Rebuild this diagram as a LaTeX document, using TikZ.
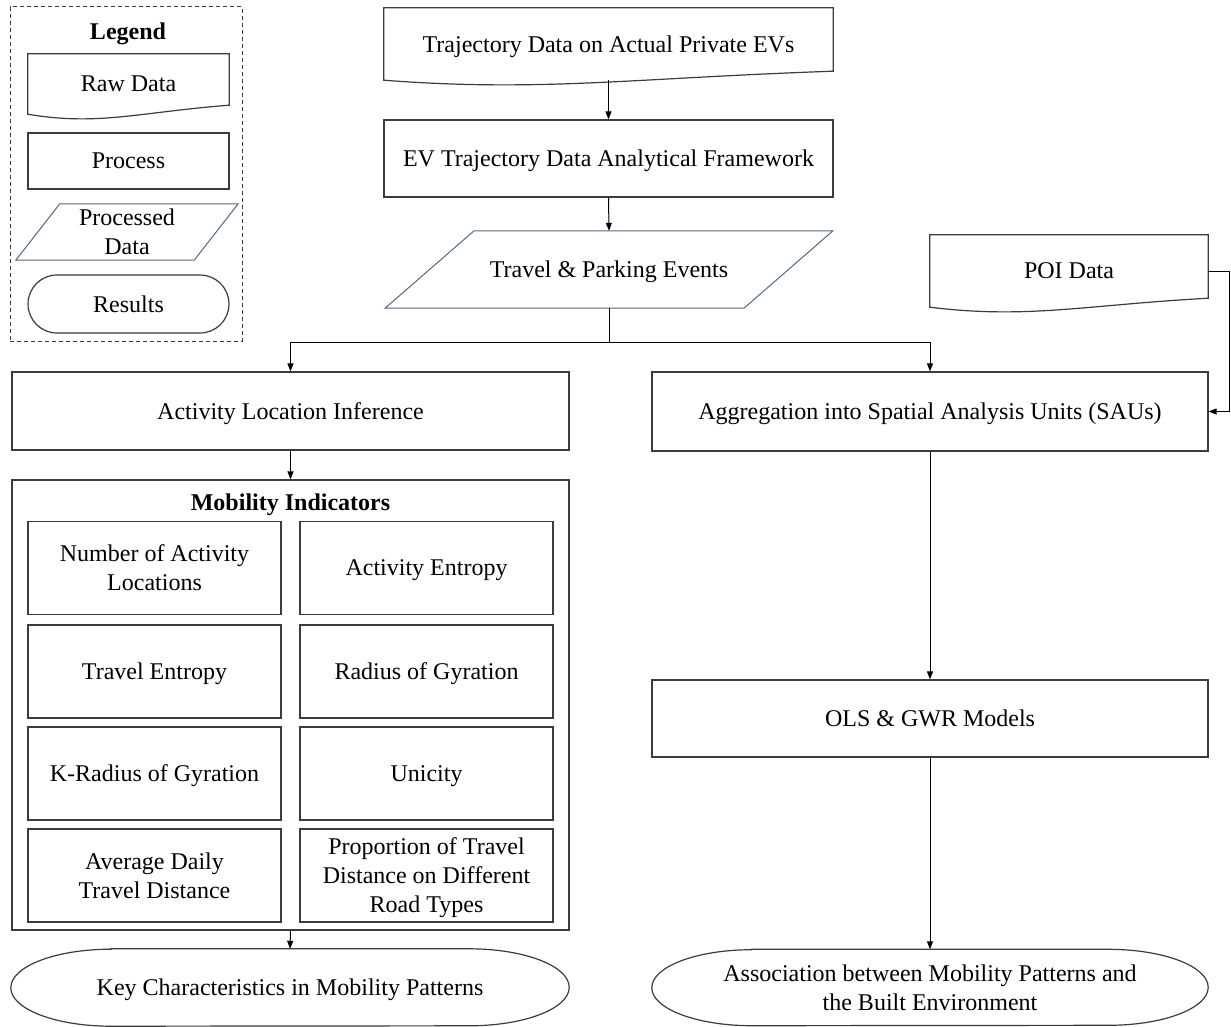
\documentclass[tikz,border=0pt]{standalone}
\usepackage{fontspec}
\setmainfont{Liberation Serif}
\usetikzlibrary{arrows.meta,calc}
\definecolor{linec}{RGB}{60,60,60}
\definecolor{slate}{RGB}{84,104,134}
\newcommand{\docoutline}[1]{%
  \draw[shapeline] (#1.north west) -- (#1.north east) -- ([yshift=9pt]#1.south east)
   .. controls ($(#1.south west)!0.55!(#1.south east)+(0,-2)$) and ($(#1.south west)!0.35!(#1.south east)+(0,12)$) .. (#1.south west) -- cycle;}
\newcommand{\paraoutline}[2]{%
  \draw[shapeline,draw=slate,line width=1pt] ($(#1.north west)+(#2,0)$) -- ($(#1.north east)+(#2,0)$) -- ($(#1.south east)+(-#2,0)$) -- ($(#1.south west)+(-#2,0)$) -- cycle;}
\newcommand{\termoutline}[3]{%
  \draw[shapeline] ($(#1.north west)+(#2,0)$) -- ($(#1.north east)+(-#2,0)$)
    arc[start angle=-90,end angle=90,x radius=#2,y radius=#3]
    -- ($(#1.south west)+(#2,0)$)
    arc[start angle=90,end angle=270,x radius=#2,y radius=#3] -- cycle;}
\begin{document}
\begin{tikzpicture}[x=1pt,y=-1pt,
  every node/.style={font=\fontsize{24}{29}\selectfont, align=center, inner sep=0pt, text depth=0pt},
  shapeline/.style={draw=linec, line width=1.2pt},
  box/.style={shapeline, rectangle},
  plain/.style={rectangle, draw=none},
  conn/.style={draw=black, line width=1pt, -{Triangle[length=8pt,width=6pt]}},
  connplain/.style={draw=black, line width=1pt},
  legbox/.style={draw=linec, line width=1pt, dash pattern=on 4pt off 3pt}]
\useasboundingbox (0,0) rectangle (1231,1027);

% Legend
\node[legbox, minimum width=232, minimum height=334] (legend) at (126,174) {};
\node (legtitle) at (128,31) {\textbf{Legend}};
\node[plain, minimum width=201, minimum height=60] (lraw) at (128.5,84) {Raw Data};
\docoutline{lraw}
\node[box, minimum width=201, minimum height=56] (lproc) at (128.5,161) {Process};
\node[plain, minimum width=178, minimum height=56] (lpd) at (127,232) {Processed\\Data};
\paraoutline{lpd}{22}
\node[box, rounded corners=29pt, minimum width=201, minimum height=58] (lres) at (128.5,304) {Results};

% Main flow
\node[plain, minimum width=449, minimum height=72] (traj) at (608.5,44) {Trajectory Data on Actual Private EVs};
\docoutline{traj}
\node[box, minimum width=449, minimum height=77] (evf) at (608.5,158.5) {EV Trajectory Data Analytical Framework};
\node[plain, minimum width=358.5, minimum height=77] (tpe) at (609,269.5) {Travel \& Parking Events};
\paraoutline{tpe}{44.5}
\node[plain, minimum width=278, minimum height=72] (poi) at (1069,271) {POI Data};
\docoutline{poi}

\node[box, minimum width=557, minimum height=78] (ali) at (290.5,411) {Activity Location Inference};
\node[box, minimum width=556, minimum height=79] (agg) at (930,411.5) {Aggregation into Spatial Analysis Units (SAUs)};

\node[box, minimum width=557, minimum height=450] (mob) at (290.5,705) {};
\node (mobtitle) at (290.5,502) {\textbf{Mobility Indicators}};
\node[box, minimum width=253, minimum height=93] (m11) at (154.5,568) {Number of Activity\\Locations};
\node[box, minimum width=253, minimum height=93] (m12) at (426.5,568) {Activity Entropy};
\node[box, minimum width=253, minimum height=93] (m21) at (154.5,671.5) {Travel Entropy};
\node[box, minimum width=253, minimum height=93] (m22) at (426.5,671.5) {Radius of Gyration};
\node[box, minimum width=253, minimum height=93] (m31) at (154.5,773.5) {K-Radius of Gyration};
\node[box, minimum width=253, minimum height=93] (m32) at (426.5,773.5) {Unicity};
\node[box, minimum width=253, minimum height=93] (m41) at (154.5,875.5) {Average Daily\\Travel Distance};
\node[box, minimum width=253, minimum height=93] (m42) at (426.5,875.5) {Proportion of Travel\\Distance on Different\\Road Types};

\node[plain, minimum width=558, minimum height=77] (key) at (290,987.5) {Key Characteristics in Mobility Patterns};
\termoutline{key}{100}{38.5}

\node[box, minimum width=556, minimum height=77] (ols) at (930,718.5) {OLS \& GWR Models};
\node[plain, minimum width=556, minimum height=76] (assoc) at (930,987.5) {Association between Mobility Patterns and\\the Built Environment};
\termoutline{assoc}{100}{38}

% Connectors
\draw[conn] (traj.south) -- (evf.north);
\draw[conn] (evf.south) -- (tpe.north);
\draw[connplain] (tpe.south) -- ++(0,34) coordinate (split);
\draw[conn] (split) -| (ali.north);
\draw[conn] (split) -| (agg.north);
\draw[conn] (poi.east) -- ++(21,0) |- (agg.east);
\draw[conn] (ali.south) -- (mob.north);
\draw[conn] (mob.south) -- (key.north);
\draw[conn] (agg.south) -- (ols.north);
\draw[conn] (ols.south) -- (assoc.north);
\end{tikzpicture}
\end{document}
